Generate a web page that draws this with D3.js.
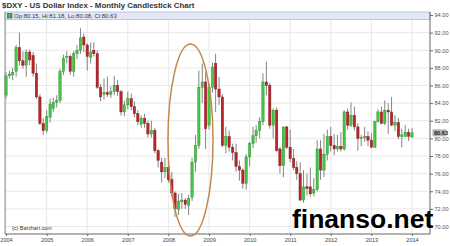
<!DOCTYPE html>
<html><head><meta charset="utf-8">
<script src="https://cdn.jsdelivr.net/npm/d3@7/dist/d3.min.js"></script>
<style>body{margin:0;background:#fff;}svg{display:block;font-family:"Liberation Sans",Arial,sans-serif;}</style>
</head><body>
<script>
const months = [
"2004-01","2004-02","2004-03","2004-04","2004-05","2004-06","2004-07","2004-08","2004-09","2004-10","2004-11","2004-12",
"2005-01","2005-02","2005-03","2005-04","2005-05","2005-06","2005-07","2005-08","2005-09","2005-10","2005-11","2005-12",
"2006-01","2006-02","2006-03","2006-04","2006-05","2006-06","2006-07","2006-08","2006-09","2006-10","2006-11","2006-12",
"2007-01","2007-02","2007-03","2007-04","2007-05","2007-06","2007-07","2007-08","2007-09","2007-10","2007-11","2007-12",
"2008-01","2008-02","2008-03","2008-04","2008-05","2008-06","2008-07","2008-08","2008-09","2008-10","2008-11","2008-12",
"2009-01","2009-02","2009-03","2009-04","2009-05","2009-06","2009-07","2009-08","2009-09","2009-10","2009-11","2009-12",
"2010-01","2010-02","2010-03","2010-04","2010-05","2010-06","2010-07","2010-08","2010-09","2010-10","2010-11","2010-12",
"2011-01","2011-02","2011-03","2011-04","2011-05","2011-06","2011-07","2011-08","2011-09","2011-10","2011-11","2011-12",
"2012-01","2012-02","2012-03","2012-04","2012-05","2012-06","2012-07","2012-08","2012-09","2012-10","2012-11","2012-12",
"2013-01","2013-02","2013-03","2013-04","2013-05","2013-06","2013-07","2013-08","2013-09","2013-10","2013-11","2013-12",
"2014-01"];
const opens = [
84.9,87.1,87.2,87.6,90.3,88.8,88.3,89.8,89.4,87.4,84.7,81.7,
80.9,82.4,83.4,84.1,84.3,87.6,89.2,89.3,87.6,89.6,90.0,91.5,
90.6,89.2,90.0,89.6,85.8,85.0,85.2,85.0,85.3,86.0,85.3,83.0,
83.8,84.5,83.6,82.8,81.6,82.3,81.7,80.5,80.9,78.6,77.3,76.2,
76.7,75.3,73.8,71.9,72.8,73.0,72.4,73.3,77.3,79.2,85.8,86.4,
81.5,85.8,88.5,85.6,84.7,79.2,80.2,79.0,78.4,76.8,76.4,74.9,
77.9,79.4,80.3,80.9,81.9,86.4,86.0,81.5,83.2,78.8,76.9,81.3,
79.0,77.7,76.7,76.0,73.0,74.5,74.5,73.8,74.2,78.8,76.4,78.2,
80.2,79.2,78.8,79.1,78.8,83.0,81.5,82.6,81.3,80.0,80.1,80.2,
79.8,79.0,81.9,83.0,81.7,83.2,83.0,81.5,81.8,80.2,80.2,80.7,
80.15];
const highs = [
87.5,87.7,88.0,90.6,92.0,89.9,90.1,90.1,89.8,88.5,85.0,82.3,
83.2,84.5,84.6,84.9,87.9,89.5,89.9,89.5,89.9,90.6,92.5,91.9,
90.8,90.9,90.9,90.0,86.2,86.8,87.0,85.9,87.1,86.6,85.5,84.3,
85.3,85.1,84.2,83.2,82.6,82.8,82.0,82.0,81.2,78.8,77.8,77.8,
77.2,76.2,74.0,73.7,73.8,73.2,73.6,77.8,80.4,87.7,88.5,87.5,
86.2,88.6,89.6,87.0,85.0,81.3,80.9,79.4,79.4,77.5,76.6,78.2,
79.6,81.3,81.5,82.4,87.4,88.7,86.3,83.4,83.5,79.0,81.3,81.4,
81.0,78.8,77.4,77.3,76.4,76.0,76.7,75.5,79.8,79.8,80.5,81.0,
81.3,80.5,80.4,80.7,83.2,83.4,84.1,83.6,81.7,80.4,81.3,80.8,
80.6,82.0,83.3,83.6,84.3,84.0,84.7,82.6,82.3,81.1,81.5,81.1,
81.18];
const lows = [
84.5,86.8,86.6,87.0,88.3,87.9,87.0,88.3,87.0,84.5,81.5,80.4,
80.6,81.8,83.0,83.5,84.0,87.2,88.5,87.2,87.0,89.0,89.6,89.8,
87.7,88.5,89.3,85.6,84.2,84.4,84.7,84.6,84.9,84.8,82.6,82.5,
83.3,83.2,82.4,81.5,81.2,81.2,80.1,80.1,78.3,76.7,75.0,75.5,
75.0,73.4,71.1,71.3,72.0,72.0,71.3,72.9,76.2,78.8,84.0,78.8,
81.0,85.2,83.0,83.8,79.0,78.3,78.5,77.5,76.2,75.2,74.3,74.2,
76.8,78.9,79.5,80.0,81.5,84.9,81.1,80.0,78.5,76.0,75.6,78.8,
77.3,76.4,75.3,72.9,72.7,73.5,73.4,73.4,74.0,75.3,75.6,77.5,
78.5,78.1,78.5,78.5,78.6,81.0,81.3,80.9,78.6,79.1,79.6,79.1,
78.9,78.9,81.8,81.6,81.5,80.5,81.4,80.8,79.9,79.0,80.2,79.7,
80.08];
const closes = [
87.1,87.3,87.5,90.3,88.8,88.3,89.8,88.9,87.4,84.7,81.7,80.9,
82.5,83.9,84.1,84.3,87.6,89.1,89.3,87.6,89.6,90.0,91.4,90.6,
89.3,89.8,89.6,85.8,84.7,85.2,85.0,85.3,86.0,85.3,83.0,83.8,
84.5,83.6,82.8,81.9,82.3,81.7,80.5,80.9,78.6,77.5,76.2,76.7,
75.3,73.8,72.0,72.9,73.0,72.5,73.2,77.3,79.2,85.8,86.4,81.1,
85.8,88.1,85.6,84.7,79.2,80.2,79.0,78.4,76.8,76.4,74.9,77.9,
79.4,80.3,80.9,81.9,86.4,86.0,81.5,83.2,78.6,76.9,81.3,79.0,
77.7,76.7,76.0,73.0,74.5,74.3,73.7,74.2,78.8,76.4,78.2,80.2,
79.2,78.8,79.1,78.8,83.0,81.5,82.6,81.3,80.0,80.1,80.2,79.8,
79.0,81.9,83.0,81.7,83.2,83.0,81.5,81.8,80.2,80.4,80.7,80.2,
80.63];
const yTicks = [70,72,74,76,78,80,82,84,86,88,90,92,94];
const yearTicks = ["2004","2005","2006","2007","2008","2009","2010","2011","2012","2013","2014"];
const title = "$DXY - US Dollar Index - Monthly Candlestick Chart";
const header = "Op:80.15, Hi:81.18, Lo:80.08, Cl:80.63";
const lastClose = 80.63;

const W = 450, H = 246;
const plot = {l:5, r:430, t:12, b:234};
const parse = d3.timeParse("%Y-%m");
const data = months.map((m,i)=>({d:parse(m),o:opens[i],h:highs[i],l:lows[i],c:closes[i]}));

const x = d3.scaleTime().domain([parse("2004-01"), parse("2014-01")]).range([6, 412]);
const y = d3.scaleLinear().domain([70, 94]).range([226.5, 15]);

const svg = d3.select("body").append("svg").attr("width", W).attr("height", H);
svg.append("rect").attr("width", W).attr("height", H).attr("fill", "#fff");

// gridlines
const years = yearTicks.map(s=>d3.timeParse("%Y")(s));
svg.append("g").selectAll("line").data(yTicks).join("line")
  .attr("x1", plot.l).attr("x2", plot.r).attr("y1", d=>y(d)).attr("y2", d=>y(d))
  .attr("stroke", "#e2e2e2").attr("stroke-width", 0.8);
svg.append("g").selectAll("line").data(years).join("line")
  .attr("x1", d=>x(d)).attr("x2", d=>x(d)).attr("y1", plot.t).attr("y2", plot.b)
  .attr("stroke", "#e2e2e2").attr("stroke-width", 0.8);

// header band
svg.append("rect").attr("x", plot.l).attr("y", plot.t).attr("width", plot.r-plot.l).attr("height", 7.5)
  .attr("fill", "#e3e8f7").attr("stroke", "#9aa6d0").attr("stroke-width", 0.6);
svg.append("rect").attr("x", 7.5).attr("y", 13.5).attr("width", 4.5).attr("height", 4.5)
  .attr("fill", "#41b845").attr("stroke", "#1f5f1f").attr("stroke-width", 0.6);
svg.append("text").attr("x", 14).attr("y", 17.9).attr("font-size", 6).attr("fill", "#333").text(header);

// candles
const bw = 2.4;
const g = svg.append("g");
g.selectAll("line.wick").data(data).join("line").attr("class","wick")
  .attr("x1", d=>x(d.d)).attr("x2", d=>x(d.d)).attr("y1", d=>y(d.h)).attr("y2", d=>y(d.l))
  .attr("stroke", "#666").attr("stroke-width", 0.8);
g.selectAll("rect.body").data(data).join("rect").attr("class","body")
  .attr("x", d=>x(d.d)-bw/2).attr("width", bw)
  .attr("y", d=>y(Math.max(d.o,d.c)))
  .attr("height", d=>Math.max(1, Math.abs(y(d.o)-y(d.c))))
  .attr("fill", d=>d.c>=d.o ? "#45c445" : "#b8252b")
  .attr("stroke", d=>d.c>=d.o ? "#2c8a2c" : "#7d1318").attr("stroke-width", 0.4);

// frame
svg.append("line").attr("x1", plot.l).attr("x2", plot.l).attr("y1", plot.t).attr("y2", plot.b).attr("stroke", "#8a8a8a").attr("stroke-width", 1);

// axes
const yAxis = svg.append("g").attr("transform", `translate(${plot.r},0)`)
  .call(d3.axisRight(y).tickValues(yTicks).tickFormat(d3.format(".2f")).tickSize(3).tickPadding(1.5));
yAxis.select(".domain").attr("d", `M0,${plot.t}V${plot.b}`).attr("stroke", "#666");
yAxis.selectAll("text").attr("font-size", 5.6).attr("fill", "#555").attr("font-family", '"Liberation Sans",Arial,sans-serif');
yAxis.selectAll("line").attr("stroke", "#666");

const xAxis = svg.append("g").attr("transform", `translate(0,${plot.b})`)
  .call(d3.axisBottom(x).tickValues(years).tickFormat(d3.timeFormat("%Y")).tickSize(2).tickPadding(2.5));
xAxis.select(".domain").attr("d", `M${plot.l},0H${plot.r}`).attr("stroke", "#666");
xAxis.selectAll("text").attr("font-size", 5.6).attr("fill", "#444").attr("font-family", '"Liberation Sans",Arial,sans-serif');
xAxis.selectAll("line").attr("stroke", "#666");

// last price tag
svg.append("rect").attr("x", 432.5).attr("y", y(lastClose)-3.5).attr("width", 14).attr("height", 7).attr("fill", "#b4b4b4");
svg.append("text").attr("x", 434).attr("y", y(lastClose)+2).attr("font-size", 5.6).attr("font-weight", "bold").attr("fill", "#222").text(d3.format(".2f")(lastClose));

// texts
svg.append("text").attr("x", 2).attr("y", 8.3).attr("font-size", 7.9).attr("font-weight", "bold").attr("fill", "#333").text(title);
svg.append("text").attr("x", 12).attr("y", 230).attr("font-size", 5.4).attr("fill", "#333").text("(c) Barchart.com");

// ellipse highlight
svg.append("ellipse").attr("cx", 190.5).attr("cy", 140).attr("rx", 22.5).attr("ry", 96)
  .attr("fill", "none").attr("stroke", "#c08850").attr("stroke-width", 1.5);

// watermark
svg.append("text").attr("x", 292).attr("y", 228).attr("font-size", 26.5).attr("font-weight", "bold")
  .attr("fill", "#000").attr("font-family", '"Liberation Sans",Arial,sans-serif').text("finanso.net");
</script>
</body></html>
